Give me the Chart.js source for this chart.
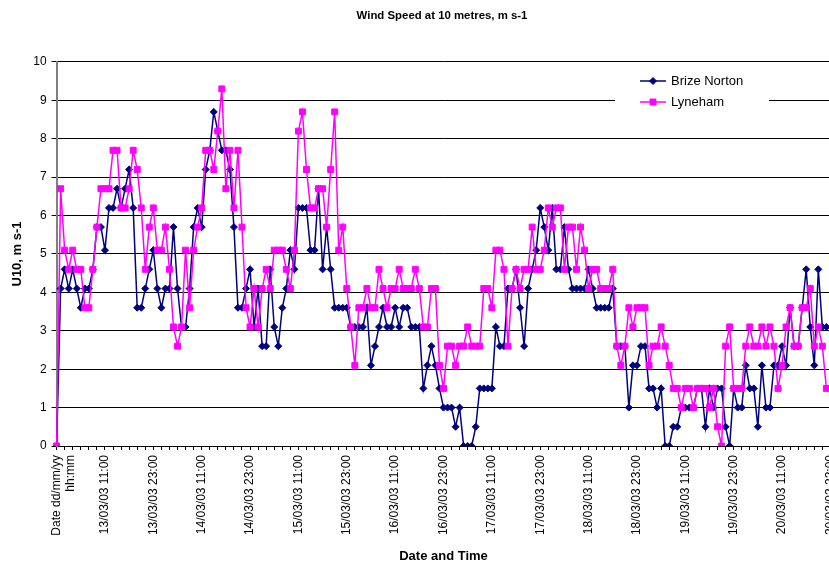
<!DOCTYPE html>
<html lang="en">
<head>
<meta charset="UTF-8">
<title>Wind Speed at 10 metres, m s-1</title>
<style>
  html, body { margin: 0; padding: 0; background: #fff; overflow: hidden; }
  #wrap { position: relative; width: 884px; height: 564px; }
</style>
</head>
<body>
<div id="wrap"><canvas id="myChart"></canvas></div>

<script src="https://cdn.jsdelivr.net/npm/chart.js"></script>
<script>
// hourly values, m s-1, starting 13/03/03 00:00 (first point is the header row = 0)
const brizeNorton = [
  0, 4.1, 4.6, 4.1, 4.6, 4.1, 3.6, 4.1, 4.1, 4.6, 5.7, 5.7,
  5.1, 6.2, 6.2, 6.7, 6.2, 6.7, 7.2, 6.2, 3.6, 3.6, 4.1, 4.6,
  5.1, 4.1, 3.6, 4.1, 4.1, 5.7, 4.1, 3.1, 3.1, 4.1, 5.7, 6.2,
  5.7, 7.2, 7.7, 8.7, 8.2, 7.7, 7.7, 7.2, 5.7, 3.6, 3.6, 4.1,
  4.6, 3.1, 4.1, 2.6, 2.6, 4.6, 3.1, 2.6, 3.6, 4.1, 5.1, 4.6,
  6.2, 6.2, 6.2, 5.1, 5.1, 6.7, 4.6, 5.7, 4.6, 3.6, 3.6, 3.6,
  3.6, 3.1, 3.1, 3.1, 3.1, 3.6, 2.1, 2.6, 3.1, 3.6, 3.1, 3.1,
  3.6, 3.1, 3.6, 3.6, 3.1, 3.1, 3.1, 1.5, 2.1, 2.6, 2.1, 1.5,
  1.0, 1.0, 1.0, 0.5, 1.0, 0, 0, 0, 0.5, 1.5, 1.5, 1.5,
  1.5, 3.1, 2.6, 2.6, 4.1, 4.1, 4.6, 3.6, 2.6, 4.1, 4.6, 5.1,
  6.2, 5.7, 5.1, 6.2, 4.6, 4.6, 5.7, 4.6, 4.1, 4.1, 4.1, 4.1,
  4.6, 4.1, 3.6, 3.6, 3.6, 3.6, 4.1, 2.6, 2.6, 2.6, 1.0, 2.1,
  2.1, 2.6, 2.6, 1.5, 1.5, 1.0, 1.5, 0, 0, 0.5, 0.5, 1.0,
  1.0, 1.0, 1.0, 1.5, 1.5, 0.5, 1.5, 1.0, 1.5, 1.5, 0.5, 0,
  1.5, 1.0, 1.0, 2.1, 1.5, 1.5, 0.5, 2.1, 1.0, 1.0, 2.1, 2.1,
  2.6, 2.1, 3.6, 2.6, 2.6, 3.6, 4.6, 3.1, 2.1, 4.6, 3.1, 3.1
];
const lyneham = [
  0, 6.7, 5.1, 4.6, 5.1, 4.6, 4.6, 3.6, 3.6, 4.6, 5.7, 6.7,
  6.7, 6.7, 7.7, 7.7, 6.2, 6.2, 6.7, 7.7, 7.2, 6.2, 4.6, 5.7,
  6.2, 5.1, 5.1, 5.7, 4.6, 3.1, 2.6, 3.1, 5.1, 3.6, 5.1, 5.7,
  6.2, 7.7, 7.7, 7.2, 8.2, 9.3, 6.7, 7.7, 6.2, 7.7, 5.7, 3.6,
  3.1, 4.1, 3.1, 4.1, 4.6, 4.1, 5.1, 5.1, 5.1, 4.6, 4.1, 5.1,
  8.2, 8.7, 7.2, 6.2, 6.2, 6.7, 6.7, 5.7, 7.2, 8.7, 5.1, 5.7,
  4.1, 3.1, 2.1, 3.6, 3.6, 4.1, 3.6, 3.6, 4.6, 4.1, 3.6, 4.1,
  4.1, 4.6, 4.1, 4.1, 4.1, 4.6, 4.1, 3.1, 3.1, 4.1, 4.1, 2.1,
  1.5, 2.6, 2.6, 2.1, 2.6, 2.6, 3.1, 2.6, 2.6, 2.6, 4.1, 4.1,
  3.6, 5.1, 5.1, 4.6, 2.6, 4.1, 4.6, 4.1, 4.6, 4.6, 5.7, 4.6,
  4.6, 5.1, 6.2, 5.7, 6.2, 6.2, 4.6, 5.7, 5.7, 4.6, 5.7, 5.1,
  4.1, 4.6, 4.6, 4.1, 4.1, 4.1, 4.6, 2.6, 2.1, 2.6, 3.6, 3.1,
  3.6, 3.6, 3.6, 2.1, 2.6, 2.6, 3.1, 2.6, 2.1, 1.5, 1.5, 1.0,
  1.5, 1.5, 1.0, 1.5, 1.5, 1.5, 1.0, 1.5, 0.5, 0, 2.6, 3.1,
  1.5, 1.5, 1.5, 2.6, 3.1, 2.6, 2.6, 3.1, 2.6, 3.1, 2.6, 1.5,
  2.1, 3.1, 3.6, 2.6, 2.6, 3.6, 3.6, 4.1, 2.6, 3.1, 2.6, 1.5
];

// tick labels, one every 12 hours
const tickLabels = [
  ['Date dd/mm/yy', 'hh:mm'],
  '13/03/03 11:00', '13/03/03 23:00',
  '14/03/03 11:00', '14/03/03 23:00',
  '15/03/03 11:00', '15/03/03 23:00',
  '16/03/03 11:00', '16/03/03 23:00',
  '17/03/03 11:00', '17/03/03 23:00',
  '18/03/03 11:00', '18/03/03 23:00',
  '19/03/03 11:00', '19/03/03 23:00',
  '20/03/03 11:00', '20/03/03 23:00'
];
const labelEvery = 12;

// one category per hour, only every 12th one carries text
const categories = [];
for (let i = 0; i <= (tickLabels.length - 1) * labelEvery; i++) {
  categories.push(i % labelEvery === 0 ? tickLabels[i / labelEvery] : '');
}

Chart.defaults.font.family = "'Liberation Sans', Arial, sans-serif";
Chart.defaults.color = '#000';

// legend box drawn inside the plot, like the original
const boxLegend = {
  id: 'boxLegend',
  afterDraw(chart) {
    const ctx = chart.ctx;
    ctx.save();
    ctx.fillStyle = '#fff';
    ctx.fillRect(615, 66, 154, 48);
    chart.data.datasets.forEach((ds, i) => {
      const y = 81 + i * 21;
      ctx.strokeStyle = ds.borderColor;
      ctx.lineWidth = 1.5;
      ctx.beginPath();
      ctx.moveTo(640, y);
      ctx.lineTo(666, y);
      ctx.stroke();
      ctx.fillStyle = ds.pointBackgroundColor;
      ctx.strokeStyle = ds.pointBorderColor;
      ctx.lineWidth = 1;
      Chart.helpers.drawPoint(ctx, { pointStyle: ds.pointStyle, radius: ds.pointRadius, borderWidth: 1, rotation: 0 }, 653, y);
      ctx.fillStyle = '#000';
      ctx.font = "13px 'Liberation Sans', Arial, sans-serif";
      ctx.textBaseline = 'middle';
      ctx.textAlign = 'left';
      ctx.fillText(ds.label, 671, y);
    });
    ctx.restore();
  }
};

const ctx = document.getElementById('myChart');

new Chart(ctx, {
  type: 'line',
  data: {
    labels: categories,
    datasets: [
      {
        label: 'Brize Norton',
        data: brizeNorton,
        borderColor: '#000080',
        backgroundColor: '#000080',
        pointBackgroundColor: '#000080',
        pointBorderColor: '#000080',
        pointStyle: 'rectRot',
        pointRadius: 3.5,
        pointBorderWidth: 1,
        borderWidth: 1.5,
        tension: 0,
        order: 2
      },
      {
        label: 'Lyneham',
        data: lyneham,
        borderColor: '#FF00FF',
        backgroundColor: '#FF00FF',
        pointBackgroundColor: '#FF00FF',
        pointBorderColor: '#FF00FF',
        pointStyle: 'rect',
        pointRadius: 4.2,
        pointBorderWidth: 1,
        borderWidth: 1.5,
        tension: 0,
        order: 1
      }
    ]
  },
  options: {
    responsive: true,
    maintainAspectRatio: false,
    animation: false,
    events: [],
    layout: { padding: 0 },
    plugins: {
      legend: { display: false },
      tooltip: { enabled: false },
      title: {
        display: true,
        text: 'Wind Speed at 10 metres, m s-1',
        color: '#000',
        font: { size: 11.4, weight: 'bold' },
        padding: { top: 9, bottom: 39.3 }
      }
    },
    scales: {
      x: {
        offset: false,
        grid: {
          drawOnChartArea: false,
          drawTicks: true,
          tickLength: 4,
          color: c => (c.index % 2 === 0 ? '#000' : 'rgba(0,0,0,0)')
        },
        border: { color: '#000', width: 1 },
        ticks: {
          autoSkip: false,
          maxRotation: 90,
          minRotation: 90,
          padding: 5,
          color: '#000',
          font: { size: 12 }
        },
        title: {
          display: true,
          text: 'Date and Time',
          color: '#000',
          font: { size: 13, weight: 'bold' },
          padding: 0
        },
        afterFit: s => { s.height = 118; s.paddingLeft = 0; s.paddingRight = 0; }
      },
      y: {
        min: 0,
        max: 10,
        ticks: { stepSize: 1, padding: 5, color: '#000', font: { size: 12 } },
        grid: { color: '#000', tickLength: 5 },
        border: { color: '#808080', width: 2 },
        title: {
          display: true,
          text: 'U10, m s-1',
          color: '#000',
          font: { size: 13, weight: 'bold' },
          padding: { top: 10, bottom: 0 }
        },
        afterFit: s => { s.width = 56.6; }
      },
      // empty axis that only keeps the space right of the plot
      spacer: {
        position: 'right',
        display: true,
        grid: { display: false },
        border: { display: false },
        ticks: { display: false },
        afterFit: s => { s.width = 53.6; }
      }
    }
  },
  plugins: [boxLegend]
});
</script>
</body>
</html>
